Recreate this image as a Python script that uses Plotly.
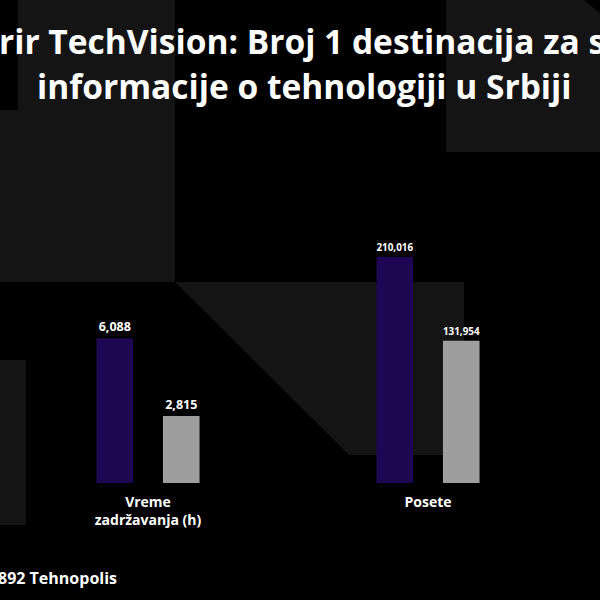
import plotly.graph_objects as go
from plotly.subplots import make_subplots

# ---- data ----
categories = ["Vreme<br>zadržavanja (h)", "Posete"]
series_a = [6088, 210016]     # purple
series_b = [2815, 131954]     # gray
title_line1 = "rir TechVision: Broj 1 destinacija za s"
title_line2 = "informacije o tehnologiji u Srbiji"
footer_text = "892 Tehnopolis"

PURPLE = "#1d0752"
GRAY = "#9e9e9e"
SHAPE = "#141414"
FONT = "Open Sans"

W, H = 600, 600
L, R, T, B = 8, 32, 150, 117
PW = W - L - R
PH = H - T - B


def px(x):
    return (x - L) / PW


def py(y):
    return (H - B - y) / PH


fig = make_subplots(rows=1, cols=2, horizontal_spacing=0, shared_yaxes=False)

for i, cat in enumerate(categories):
    for vals, col in ((series_a, PURPLE), (series_b, GRAY)):
        fig.add_trace(
            go.Bar(
                x=[cat], y=[vals[i]],
                marker=dict(color=col, line=dict(width=0)),
                texttemplate="%{y:,}", textposition="outside",
                textfont=dict(family=FONT, size=12.5, color="white", weight="bold"),
                cliponaxis=False, showlegend=False, hoverinfo="skip",
            ),
            row=1, col=i + 1,
        )

yranges = [[0, 14000], [0, 309000]]
for i in range(2):
    fig.update_yaxes(range=yranges[i], visible=False, showgrid=False,
                     zeroline=False, row=1, col=i + 1)
    fig.update_xaxes(showgrid=False, zeroline=False, showline=False,
                     ticks="", ticklabelstandoff=9,
                     tickfont=dict(family=FONT, size=14, color="white", weight="bold"),
                     row=1, col=i + 1)


def path(points):
    return "M " + " L ".join(f"{px(x):.5f},{py(y):.5f}" for x, y in points) + " Z"


bg_polys = [
    [(0, 110), (18, 110), (18, 0), (175, 0), (175, 282), (0, 282)],
    [(175, 282), (464, 282), (464, 455), (349, 455)],
    [(446, 0), (584, 0), (600, 13), (600, 152), (446, 152)],
    [(0, 360), (26, 360), (26, 525), (0, 525)],
]
shapes = [
    dict(type="path", xref="paper", yref="paper", path=path(p),
         fillcolor=SHAPE, line=dict(width=0), layer="below")
    for p in bg_polys
]

annotations = [
    dict(text=title_line1, xref="paper", yref="paper", x=px(-3), y=py(41),
         xanchor="left", yanchor="middle", showarrow=False,
         font=dict(family=FONT, size=33.5, color="white", weight="bold")),
    dict(text=title_line2, xref="paper", yref="paper", x=px(304.5), y=py(86),
         xanchor="center", yanchor="middle", showarrow=False,
         font=dict(family=FONT, size=33.5, color="white", weight="bold")),
    dict(text=footer_text, xref="paper", yref="paper", x=px(-4), y=py(578),
         xanchor="left", yanchor="middle", showarrow=False,
         font=dict(family=FONT, size=16, color="white", weight="bold")),
]

fig.update_layout(
    width=W, height=H,
    margin=dict(l=L, r=R, t=T, b=B, pad=0),
    paper_bgcolor="#000000", plot_bgcolor="rgba(0,0,0,0)",
    barmode="group", bargap=0.525, bargroupgap=0.45,
    shapes=shapes, annotations=annotations,
    showlegend=False,
)

fig.write_html(
    "out.html",
    config={"displayModeBar": False},
    post_script="document.body.style.margin='0';document.body.style.background='#000';",
)
